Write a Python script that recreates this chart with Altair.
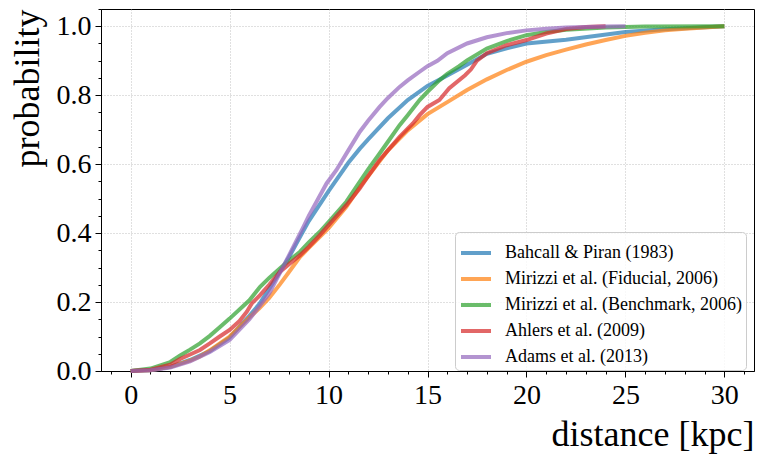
import altair as alt
import pandas as pd

series_names = [
    "Bahcall & Piran (1983)",
    "Mirizzi et al. (Fiducial, 2006)",
    "Mirizzi et al. (Benchmark, 2006)",
    "Ahlers et al. (2009)",
    "Adams et al. (2013)",
]
colors = ["#1f77b4", "#ff7f0e", "#2ca02c", "#d62728", "#9467bd"]

bahcall_d = [0, 1, 2, 3, 4, 5, 6, 6.5, 7, 8, 8.56, 9, 10, 11, 11.58, 12, 13, 14, 15, 16, 17,
             18, 19, 20, 22, 25, 27, 30]
bahcall_p = [0, 0.002, 0.012, 0.032, 0.058, 0.097, 0.160, 0.194, 0.238, 0.330, 0.389, 0.435,
             0.522, 0.604, 0.645, 0.672, 0.733, 0.786, 0.827, 0.857, 0.888, 0.920, 0.936,
             0.950, 0.961, 0.983, 0.991, 1.0]

fiducial_d = [0, 1, 2, 3, 3.5, 4, 5, 6, 6.5, 7, 7.55, 8, 8.56, 9, 9.56, 10, 10.9, 11.58, 12,
              13, 14, 15, 16, 17, 18, 19, 20, 21, 22, 23, 24, 25, 26, 27, 28, 30]
fiducial_p = [0, 0.002, 0.012, 0.030, 0.042, 0.060, 0.100, 0.155, 0.182, 0.212, 0.252,
              0.287, 0.331, 0.357, 0.389, 0.414, 0.476, 0.534, 0.565, 0.640, 0.698, 0.745,
              0.780, 0.815, 0.846, 0.873, 0.897, 0.916, 0.932, 0.947, 0.960, 0.972, 0.981,
              0.988, 0.993, 1.0]

benchmark_d = [0, 1, 2, 2.5, 3, 3.5, 4, 4.5, 5, 6, 6.54, 7, 7.55, 8, 8.56, 9, 9.56, 10,
               10.9, 11.58, 12, 12.58, 13, 13.59, 14, 14.6, 15, 15.6, 16, 16.6, 17, 18, 19,
               20, 21, 22, 24, 26, 30]
benchmark_p = [0, 0.007, 0.026, 0.045, 0.062, 0.080, 0.102, 0.127, 0.152, 0.205, 0.244,
               0.270, 0.298, 0.320, 0.346, 0.373, 0.404, 0.432, 0.491, 0.549, 0.585, 0.631,
               0.665, 0.713, 0.742, 0.786, 0.810, 0.843, 0.862, 0.884, 0.901, 0.935, 0.957,
               0.974, 0.983, 0.990, 0.996, 0.999, 1.0]

ahlers_d = [0, 1, 2, 2.5, 3, 3.5, 4, 4.5, 5, 5.5, 5.87, 6.12, 6.54, 7, 7.55, 8, 8.56, 9,
            9.56, 10, 10.9, 11.58, 12, 12.58, 13, 13.59, 14.26, 14.6, 15, 15.6, 16.1, 16.9,
            17.2, 17.5, 17.8, 18, 19, 20, 21, 22, 23, 24]
ahlers_p = [0, 0.004, 0.018, 0.035, 0.048, 0.061, 0.080, 0.100, 0.119, 0.145, 0.172, 0.196,
            0.220, 0.250, 0.288, 0.310, 0.336, 0.360, 0.394, 0.423, 0.481, 0.530, 0.565,
            0.612, 0.640, 0.679, 0.718, 0.742, 0.766, 0.786, 0.820, 0.858, 0.875, 0.900,
            0.913, 0.922, 0.945, 0.960, 0.979, 0.992, 0.998, 1.0]

adams_d = [0, 1, 2, 3, 4, 5, 6, 7, 8, 8.73, 9, 9.9, 10.4, 11, 11.58, 12, 12.58, 13, 13.59,
           14, 14.6, 15, 15.5, 16, 17, 18, 19, 20, 21, 22, 23, 24, 25]
adams_p = [0, 0.002, 0.010, 0.028, 0.055, 0.090, 0.150, 0.225, 0.335, 0.418, 0.450, 0.544,
           0.583, 0.640, 0.694, 0.726, 0.766, 0.792, 0.824, 0.843, 0.868, 0.884, 0.900,
           0.922, 0.950, 0.968, 0.980, 0.988, 0.993, 0.996, 0.998, 0.9995, 1.0]

x_ticks = list(range(-1, 32))
y_ticks = [round(0.05 * i, 2) for i in range(0, 22)]

rows = []
for name, ds, ps in zip(series_names,
                        [bahcall_d, fiducial_d, benchmark_d, ahlers_d, adams_d],
                        [bahcall_p, fiducial_p, benchmark_p, ahlers_p, adams_p]):
    for i, (d, p) in enumerate(zip(ds, ps)):
        rows.append({"series": name, "distance": d, "probability": p, "idx": i})
df = pd.DataFrame(rows)

FONT = "Liberation Serif"

x_axis = alt.Axis(
    values=x_ticks,
    labelExpr="datum.value % 5 === 0 ? format(datum.value, 'd') : ''",
    tickSize=alt.condition("datum.value % 5 === 0", alt.value(6), alt.value(3)),
    gridOpacity=alt.condition("datum.value % 5 === 0", alt.value(1), alt.value(0)),
    title="distance [kpc]",
    titleAnchor="end",
    titlePadding=8,
    labelPadding=4,
    labelFlush=False,
)
y_axis = alt.Axis(
    values=y_ticks,
    labelExpr="round(datum.value * 100) % 20 === 0 ? format(datum.value, '.1f') : ''",
    tickSize=alt.condition("round(datum.value * 100) % 20 === 0", alt.value(6), alt.value(3)),
    gridOpacity=alt.condition("round(datum.value * 100) % 20 === 0", alt.value(1), alt.value(0)),
    title="probability",
    titleAnchor="end",
    titlePadding=10,
    labelPadding=4,
    labelFlush=False,
)

chart = alt.Chart(df).mark_line(strokeWidth=4, strokeOpacity=0.7, strokeCap="butt").encode(
    x=alt.X("distance:Q", scale=alt.Scale(domain=[-1.5, 31.5], nice=False, zero=False), axis=x_axis),
    y=alt.Y("probability:Q", scale=alt.Scale(domain=[0, 1.05], nice=False), axis=y_axis),
    color=alt.Color(
        "series:N",
        scale=alt.Scale(domain=series_names, range=colors),
        sort=series_names,
        legend=alt.Legend(
            title=None,
            orient="none",
            legendX=354,
            legendY=223,
            symbolType="stroke",
            symbolSize=900,
            symbolStrokeWidth=4,
            symbolOpacity=0.7,
            labelFont=FONT,
            labelFontSize=18,
            labelColor="black",
            labelOffset=12,
            rowPadding=-6,
            padding=4,
            fillColor="rgba(255,255,255,0.8)",
            strokeColor="#cccccc",
            cornerRadius=4,
            labelLimit=400,
        ),
    ),
    order=alt.Order("idx:Q"),
).properties(
    width=653,
    height=362,
    background="white",
    autosize=alt.AutoSizeParams(type="none"),
    padding={"left": 101, "top": 9, "right": 12, "bottom": 94},
).configure_view(
    stroke="black", strokeWidth=1
).configure_axis(
    domainColor="black",
    tickColor="black",
    tickWidth=1,
    gridColor="#b0b0b0",
    gridDash=[1, 2],
    gridWidth=0.8,
    labelFont=FONT,
    labelFontSize=28,
    labelColor="black",
    titleFont=FONT,
    titleFontSize=36,
    titleFontWeight="normal",
    titleColor="black",
)

chart.save("out.html", embed_options={"renderer": "svg", "actions": False})
